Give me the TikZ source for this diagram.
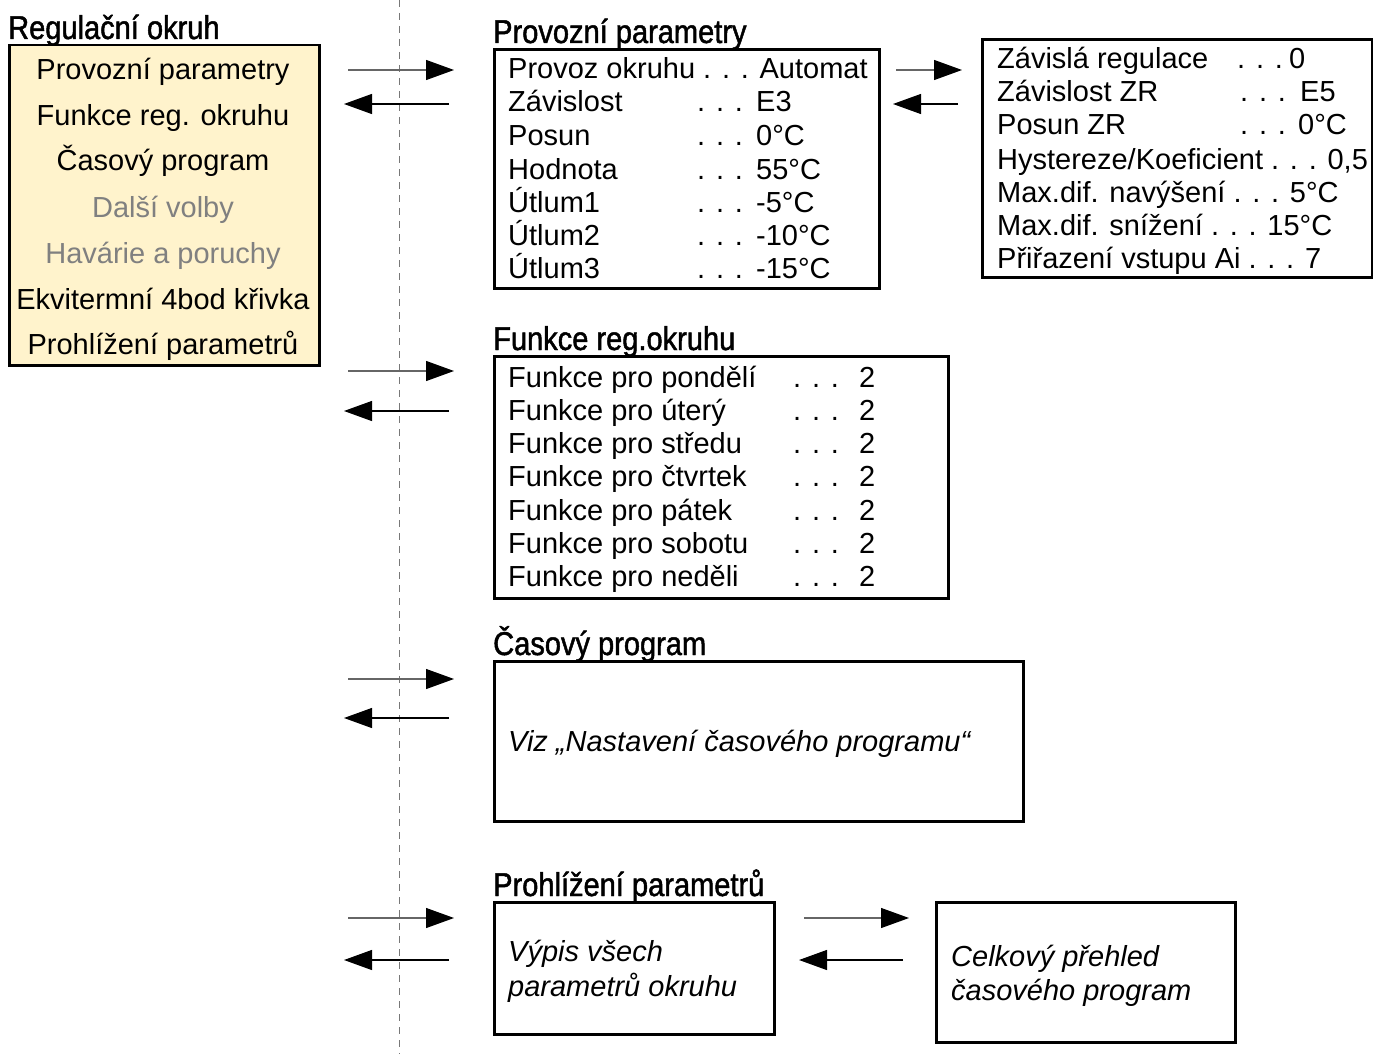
\documentclass[tikz,border=0pt]{standalone}
\usepackage{fontspec}
\setmainfont{Liberation Sans}
\newfontfamily\headfont[FakeStretch=0.88,FakeBold=1.4]{Liberation Sans}
\usetikzlibrary{arrows.meta}
\definecolor{menufill}{RGB}{255,243,204}
\definecolor{dimtext}{RGB}{128,128,128}
\definecolor{guide}{RGB}{120,120,120}
\begin{document}
\begin{tikzpicture}[x=1pt,y=-1pt,
  frame/.style={draw, line width=2.8pt, inner sep=0pt, anchor=north west},
  row/.style={inner sep=0pt, anchor=base west, font=\fontsize{29}{33}\selectfont},
  item/.style={inner sep=0pt, anchor=base, font=\fontsize{29}{33}\selectfont},
  head/.style={inner sep=0pt, anchor=base west, font=\headfont\fontsize{33}{36}\selectfont},
  fwd/.style={line width=1.2pt, draw=black!60, -{Triangle[length=28pt,width=20pt,color=black]}},
  back/.style={line width=1.2pt, draw=black, -{Triangle[length=28pt,width=20pt]}},
  guideline/.style={draw=guide, line width=1pt, dash pattern=on 7pt off 6pt}]
\useasboundingbox (0,0) rectangle (1373,1054);

% vertical separator
\coordinate (gtop) at (399,0);
\coordinate (gbot) at (399,1054);
\draw[guideline] (gtop) -- (gbot);

% ---- main menu ----
\node[head] (menuhead) at (8,39) {Regulační okruh};
\node[frame, fill=menufill, line width=2.5pt, minimum width=310pt, minimum height=320pt] (menu) at (8,44) {};
\node[item] (m1) at (163,80) {Provozní parametry};
\node[item] (m2) at (163,126) {Funkce reg. okruhu};
\node[item] (m3) at (163,171) {Časový program};
\node[item, text=dimtext] (m4) at (163,217) {Další volby};
\node[item, text=dimtext] (m5) at (163,263) {Havárie a poruchy};
\node[item] (m6) at (163,309) {Ekvitermní 4bod křivka};
\node[item] (m7) at (163,354) {Prohlížení parametrů};

% ---- operating parameters ----
\node[head] (pphead) at (493,43) {Provozní parametry};
\node[frame, minimum width=385pt, minimum height=239pt] (pp) at (493,48) {};
\node[row] (pp1) at (508,79) {Provoz okruhu . . . Automat};
\node[row] (pp2) at (508,112) {Závislost};
\node[row] (pp3) at (508,146) {Posun};
\node[row] (pp4) at (508,179) {Hodnota};
\node[row] (pp5) at (508,212) {Útlum1};
\node[row] (pp6) at (508,245) {Útlum2};
\node[row] (pp7) at (508,278) {Útlum3};
\foreach \y/\v in {112/E3,146/0°C,179/55°C,212/-5°C,245/-10°C,278/-15°C}{
  \node[row] at (697,\y) {. . .};
  \node[row] at (756,\y) {\v};
}

% ---- dependent control ----
\node[frame, minimum width=390pt, minimum height=238pt] (dr) at (981,38) {};
\node[row] (dr1) at (997,69) {Závislá regulace};
\node[row] (dr1d) at (1237,69) {. . .};
\node[row] (dr1v) at (1289,69) {0};
\node[row] (dr2) at (997,102) {Závislost ZR};
\node[row] (dr2d) at (1240,102) {. . .};
\node[row] (dr2v) at (1300,102) {E5};
\node[row] (dr3) at (997,135) {Posun ZR};
\node[row] (dr3d) at (1240,135) {. . .};
\node[row] (dr3v) at (1298,135) {0°C};
\node[row] (dr4) at (997,169) {Hystereze/Koeficient . . . 0,5};
\node[row] (dr5) at (997,202) {Max.dif. navýšení . . . 5°C};
\node[row] (dr6) at (997,235) {Max.dif. snížení . . . 15°C};
\node[row] (dr7) at (997,268) {Přiřazení vstupu Ai . . . 7};

% ---- weekday functions ----
\node[head] (fnhead) at (493,350) {Funkce reg.okruhu};
\node[frame, minimum width=454pt, minimum height=242pt] (fn) at (493,355) {};
\foreach \y/\d in {387/pondělí,420/úterý,453/středu,486/čtvrtek,520/pátek,553/sobotu,586/neděli}{
  \node[row] at (508,\y) {Funkce pro \d};
  \node[row] at (793,\y) {. . .};
  \node[row] at (859,\y) {2};
}

% ---- time program ----
\node[head] (tphead) at (493,655) {Časový program};
\node[frame, minimum width=529pt, minimum height=160pt] (tp) at (493,660) {};
\node[row, font=\itshape\fontsize{29}{33}\selectfont] (tptext) at (508,751) {Viz „Nastavení časového programu“};

% ---- parameter overview ----
\node[head] (pvhead) at (493,896) {Prohlížení parametrů};
\node[frame, minimum width=280pt, minimum height=132pt] (pv) at (493,901) {};
\node[row, font=\itshape\fontsize{29}{33}\selectfont] (pv1) at (508,961) {Výpis všech};
\node[row, font=\itshape\fontsize{29}{33}\selectfont] (pv2) at (508,996) {parametrů okruhu};
\node[frame, minimum width=299pt, minimum height=140pt] (ov) at (935,901) {};
\node[row, font=\itshape\fontsize{29}{33}\selectfont] (ov1) at (951,966) {Celkový přehled};
\node[row, font=\itshape\fontsize{29}{33}\selectfont] (ov2) at (951,1000) {časového program};

% ---- navigation arrows ----
\foreach \n/\yi/\yo in {a/70/104, b/371/411, c/679/718, d/918/960}{
  \coordinate (\n in0) at (348,\yi);
  \coordinate (\n in1) at (454,\yi);
  \coordinate (\n out0) at (449,\yo);
  \coordinate (\n out1) at (344,\yo);
  \draw[fwd] (\n in0) -- (\n in1);
  \draw[back] (\n out0) -- (\n out1);
}
\coordinate (e in0) at (896,70);
\coordinate (e in1) at (962,70);
\coordinate (e out0) at (958,104);
\coordinate (e out1) at (893,104);
\draw[fwd] (e in0) -- (e in1);
\draw[back] (e out0) -- (e out1);
\coordinate (f in0) at (804,918);
\coordinate (f in1) at (909,918);
\coordinate (f out0) at (903,960);
\coordinate (f out1) at (799,960);
\draw[fwd] (f in0) -- (f in1);
\draw[back] (f out0) -- (f out1);
\end{tikzpicture}
\end{document}
